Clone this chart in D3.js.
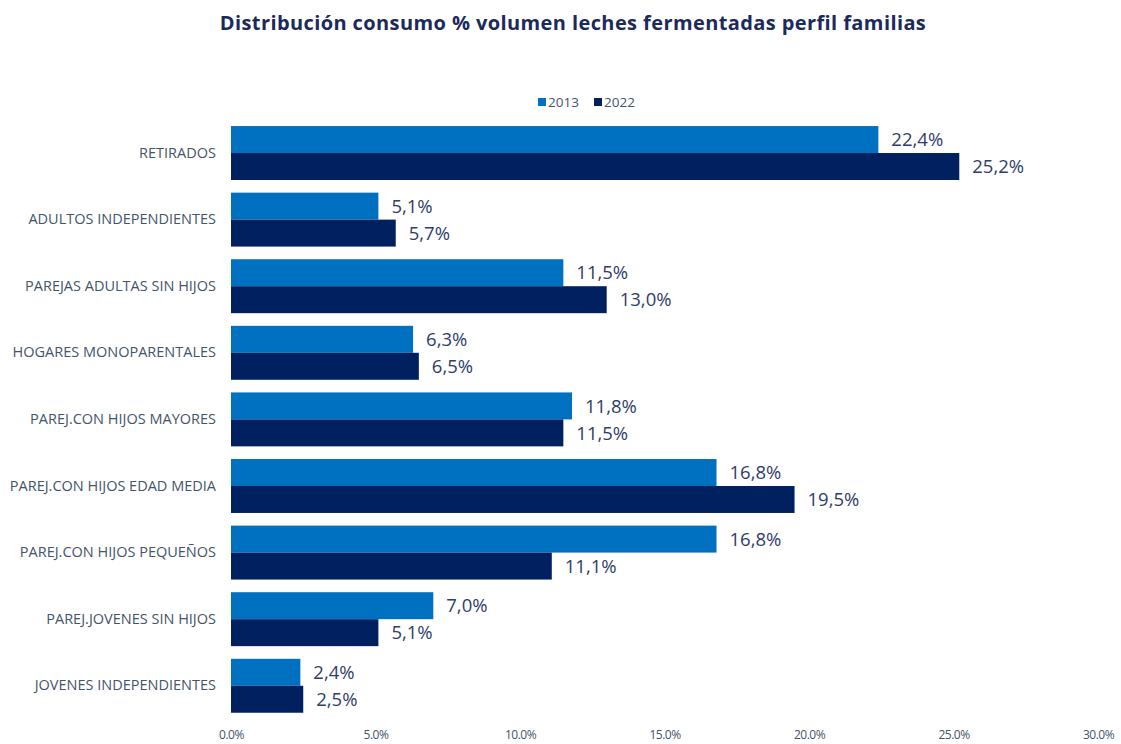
<!DOCTYPE html>
<html>
<head>
<meta charset="utf-8">
<script src="https://cdn.jsdelivr.net/npm/d3@7"></script>
<style>
  body { margin: 0; background: #fff; }
  text { font-family: "Open Sans", "Noto Sans", sans-serif; }
</style>
</head>
<body>
<div id="graph"></div>
<script>
// data
const categories = [
  "RETIRADOS",
  "ADULTOS INDEPENDIENTES",
  "PAREJAS ADULTAS SIN HIJOS",
  "HOGARES MONOPARENTALES",
  "PAREJ.CON HIJOS MAYORES",
  "PAREJ.CON HIJOS EDAD MEDIA",
  "PAREJ.CON HIJOS PEQUEÑOS",
  "PAREJ.JOVENES SIN HIJOS",
  "JOVENES INDEPENDIENTES"
];
const series = ["2013", "2022"];
const values2013 = [22.4, 5.1, 11.5, 6.3, 11.8, 16.8, 16.8, 7.0, 2.4];
const values2022 = [25.2, 5.7, 13.0, 6.5, 11.5, 19.5, 11.1, 5.1, 2.5];
const xTicks = [0, 5, 10, 15, 20, 25, 30];

const W = 1121, H = 744;
const color = d3.scaleOrdinal().domain(series).range(["#0070C0", "#002060"]);

const svg = d3.select("#graph").append("svg")
  .attr("width", W).attr("height", H);

const rows = categories.map((c, i) => ({ cat: c, "2013": values2013[i], "2022": values2022[i] }));

const x = d3.scaleLinear().domain([0, 30]).range([231, 1098]);
const y = d3.scaleBand().domain(categories).range([113.4, 725.4]).padding(0.19);
const ySub = d3.scaleBand().domain(series).range([0, y.bandwidth()]);

// title
svg.append("text")
  .attr("x", 573).attr("y", 30)
  .attr("text-anchor", "middle")
  .style("font-size", "20px").style("font-weight", "bold")
  .style("letter-spacing", "0.4px")
  .style("fill", "#1B2A5C")
  .text("Distribución consumo % volumen leches fermentadas perfil familias");

// legend
const legend = svg.append("g").attr("transform", "translate(538,102)");
series.forEach((s, i) => {
  const g = legend.append("g").attr("transform", "translate(" + i * 56 + ",0)");
  g.append("rect").attr("x", 0).attr("y", -4).attr("width", 8).attr("height", 8).attr("fill", color(s));
  g.append("text").attr("x", 10).attr("y", 0).attr("dy", "0.35em")
    .style("font-size", "13.5px").style("fill", "#44546A").text(s);
});

// bars
const groups = svg.append("g").selectAll("g")
  .data(rows).enter().append("g")
  .attr("transform", d => "translate(0," + y(d.cat) + ")");

groups.selectAll("rect")
  .data(d => series.map(s => ({ key: s, value: d[s] })))
  .enter().append("rect")
  .attr("x", x(0))
  .attr("y", d => ySub(d.key))
  .attr("width", d => x(d.value) - x(0))
  .attr("height", ySub.bandwidth())
  .attr("fill", d => color(d.key));

// value labels
groups.selectAll("text.val")
  .data(d => series.map(s => ({ key: s, value: d[s] })))
  .enter().append("text")
  .attr("class", "val")
  .attr("x", d => x(d.value) + 13)
  .attr("y", d => ySub(d.key) + ySub.bandwidth() / 2)
  .attr("dy", "0.36em")
  .style("font-size", "18.5px").style("fill", "#2F3D6B")
  .text(d => d.value.toFixed(1).replace(".", ",") + "%");

// category axis
const yAxis = svg.append("g")
  .attr("transform", "translate(" + x(0) + ",0)")
  .call(d3.axisLeft(y).tickSize(0).tickPadding(15));
yAxis.select(".domain").remove();
yAxis.selectAll("text")
  .style("font-size", "14.5px").style("fill", "#44546A")
  .style("font-family", "'Open Sans', sans-serif");

// value axis
const xAxis = svg.append("g")
  .attr("transform", "translate(0,735)")
  .call(d3.axisBottom(x).tickValues(xTicks).tickSize(0).tickPadding(0)
    .tickFormat(d => d.toFixed(1) + "%"));
xAxis.select(".domain").remove();
xAxis.selectAll("text")
  .attr("dy", "0.35em")
  .style("font-size", "12px").style("fill", "#44546A")
  .style("letter-spacing", "-0.5px")
  .style("font-family", "'Open Sans', sans-serif");
</script>
</body>
</html>
